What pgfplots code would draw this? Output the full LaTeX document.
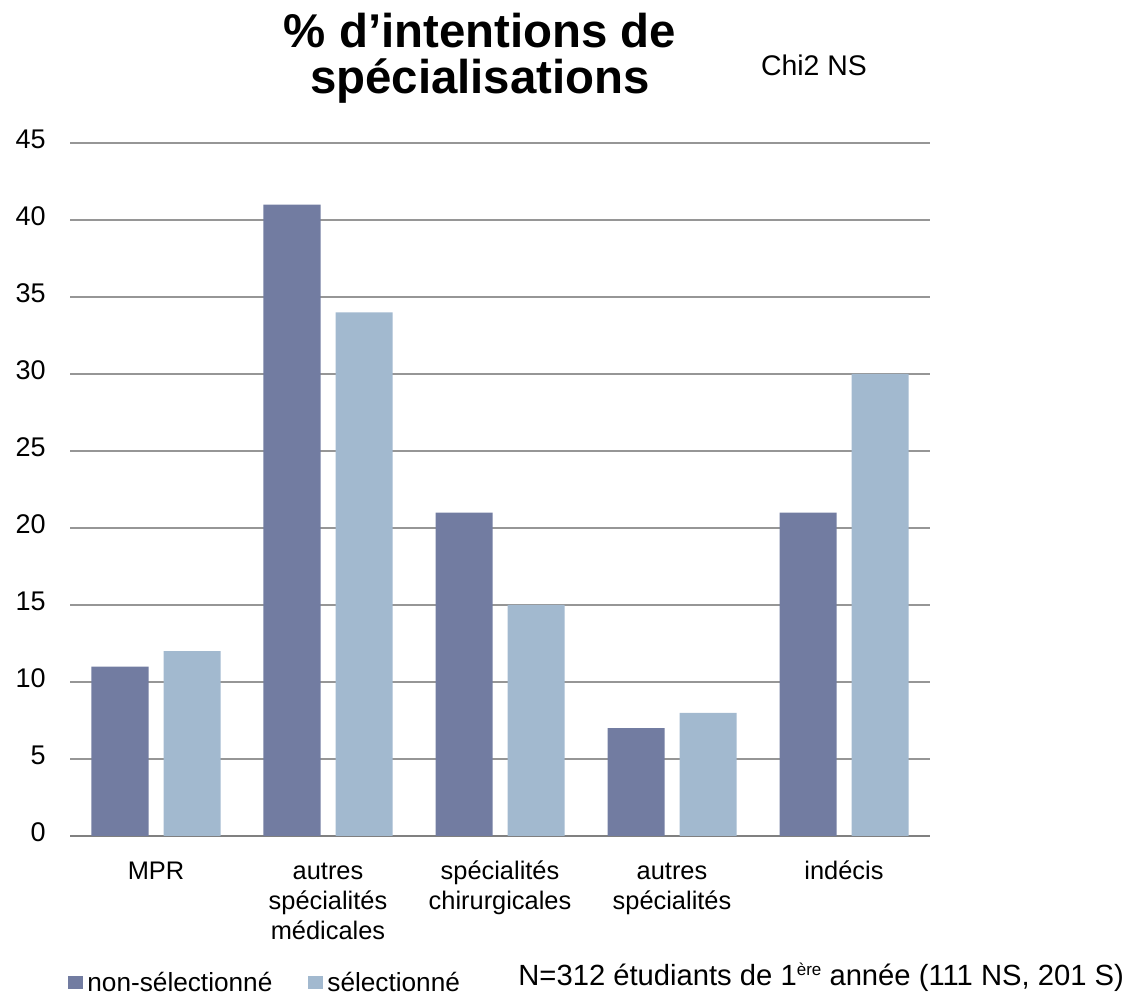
\documentclass[border=0pt]{standalone}
\usepackage{fontspec}
\setmainfont{Liberation Sans}
\usepackage{pgfplots}
\pgfplotsset{compat=1.18}
\definecolor{cDark}{RGB}{114,124,161}
\definecolor{cLight}{RGB}{162,185,207}
\definecolor{cGrid}{RGB}{150,150,150}
\begin{document}
\begin{tikzpicture}
\useasboundingbox (0,0) rectangle (569pt,497pt);
\begin{axis}[
  at={(35pt,79pt)}, anchor=south west,
  scale only axis, width=430pt, height=346.5pt,
  ybar=7.5pt, bar width=28.5pt,
  xmin=-0.5, xmax=4.5, ymin=0, ymax=45,
  xtick=data,
  xticklabels={MPR,{autres\\spécialités\\médicales},{spécialités\\chirurgicales},{autres\\spécialités},indécis},
  ytick={0,5,...,45},
  ymajorgrids, grid style={cGrid, line width=0.75pt},
  axis x line*=bottom, axis y line*=left,
  x axis line style={draw=cGrid!85!black, line width=0.9pt, -},
  y axis line style={draw=none},
  major tick length=0pt,
  typeset ticklabels with strut,
  /pgf/number format/assume math mode=true,
  yticklabel style={font=\fontsize{13.5}{15}\selectfont, anchor=east, inner sep=0pt, xshift=-12pt},
  xticklabel style={font=\fontsize{12.7}{15}\selectfont, align=center, anchor=north, inner sep=0pt, yshift=-11pt},
  legend style={at={(-0.0023,-0.212)}, anchor=west, draw=none, fill=none, inner sep=0pt,
    font=\fontsize{13.1}{15}\selectfont, legend columns=2,
    /tikz/every even column/.append style={column sep=16pt}},
  legend image code/.code={\fill[#1] (0pt,-3.25pt) rectangle (7.5pt,3.25pt);},
  legend cell align=left,
]
\addplot[fill=cDark, draw=none] coordinates {(0,11) (1,41) (2,21) (3,7) (4,21)};
\addplot[fill=cLight, draw=none] coordinates {(0,12) (1,34) (2,15) (3,8) (4,30)};
\legend{non-sélectionné,sélectionné}
\end{axis}
\node[align=center, font=\fontsize{23.7}{23}\selectfont\bfseries] at (240pt,468pt) {\% d’intentions de\\spécialisations};
\node[font=\fontsize{14.2}{16}\selectfont] at (407pt,464.5pt) {Chi2 NS};
\node[font=\fontsize{14.6}{16}\selectfont, anchor=base west, inner sep=0pt] at (259pt,4.5pt) {N=312 étudiants de 1\raisebox{5pt}{\fontsize{8.5}{9}\selectfont ère} année (111 NS, 201 S)};
\end{tikzpicture}
\end{document}
